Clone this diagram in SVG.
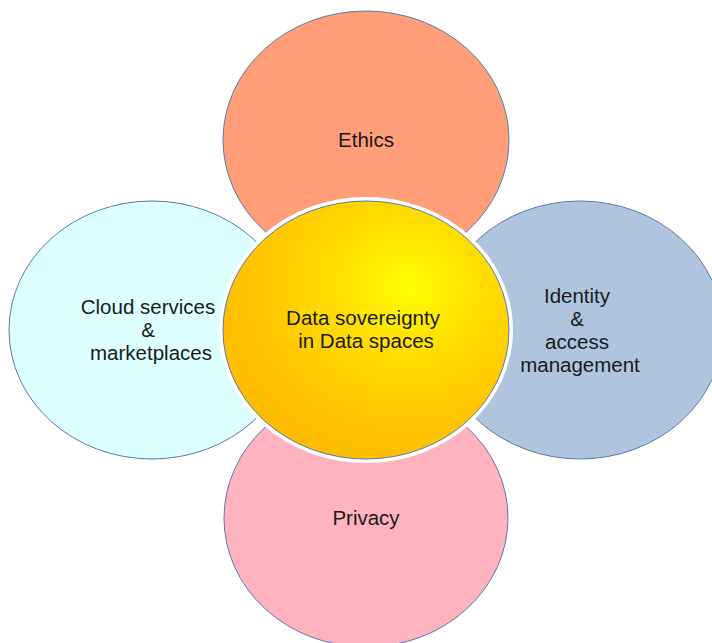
<svg xmlns="http://www.w3.org/2000/svg" width="712" height="643" viewBox="0 0 712 643">
<defs>
<radialGradient id="gold" cx="0.65" cy="0.33" r="0.75" fx="0.65" fy="0.33">
<stop offset="0" stop-color="#FFFF00"/>
<stop offset="0.35" stop-color="#FFDD00"/>
<stop offset="0.75" stop-color="#FFC300"/>
<stop offset="1" stop-color="#FFBB00"/>
</radialGradient>
</defs>
<style>
.halo{fill:none;stroke:#ffffff;stroke-width:8}
.shape{stroke:#5b7bab;stroke-width:1}
text{font-family:"Liberation Sans",Arial,sans-serif;font-size:20.5px;fill:#1a1a1a;text-anchor:middle}
</style>
<rect width="712" height="643" fill="#ffffff"/>
<g id="ethics">
<ellipse class="halo" cx="366" cy="140" rx="143" ry="129"/>
<ellipse class="shape" cx="366" cy="140" rx="143" ry="129" fill="#FF9E79"/>
<text x="366" y="147">Ethics</text>
</g>
<g id="cloud">
<ellipse class="halo" cx="152" cy="330" rx="143" ry="129"/>
<ellipse class="shape" cx="152" cy="330" rx="143" ry="129" fill="#DDFFFF"/>
<text x="148" y="314">Cloud services</text>
<text x="148" y="337">&amp;</text>
<text x="151" y="360">marketplaces</text>
</g>
<g id="identity">
<ellipse class="halo" cx="580" cy="330" rx="143" ry="129"/>
<ellipse class="shape" cx="580" cy="330" rx="143" ry="129" fill="#B0C4DE"/>
<text x="577" y="303">Identity</text>
<text x="577" y="326">&amp;</text>
<text x="577" y="349">access</text>
<text x="580" y="372">management</text>
</g>
<g id="privacy">
<ellipse class="halo" cx="366" cy="518" rx="142" ry="129"/>
<ellipse class="shape" cx="366" cy="518" rx="142" ry="129" fill="#FFB3BE"/>
<text x="366" y="525">Privacy</text>
</g>
<g id="center">
<ellipse class="halo" cx="366" cy="330" rx="143" ry="129"/>
<ellipse class="shape" cx="366" cy="330" rx="143" ry="129" fill="url(#gold)"/>
<text x="363" y="325">Data sovereignty</text>
<text x="366" y="348">in Data spaces</text>
</g>
<g id="connectors"></g>
</svg>
